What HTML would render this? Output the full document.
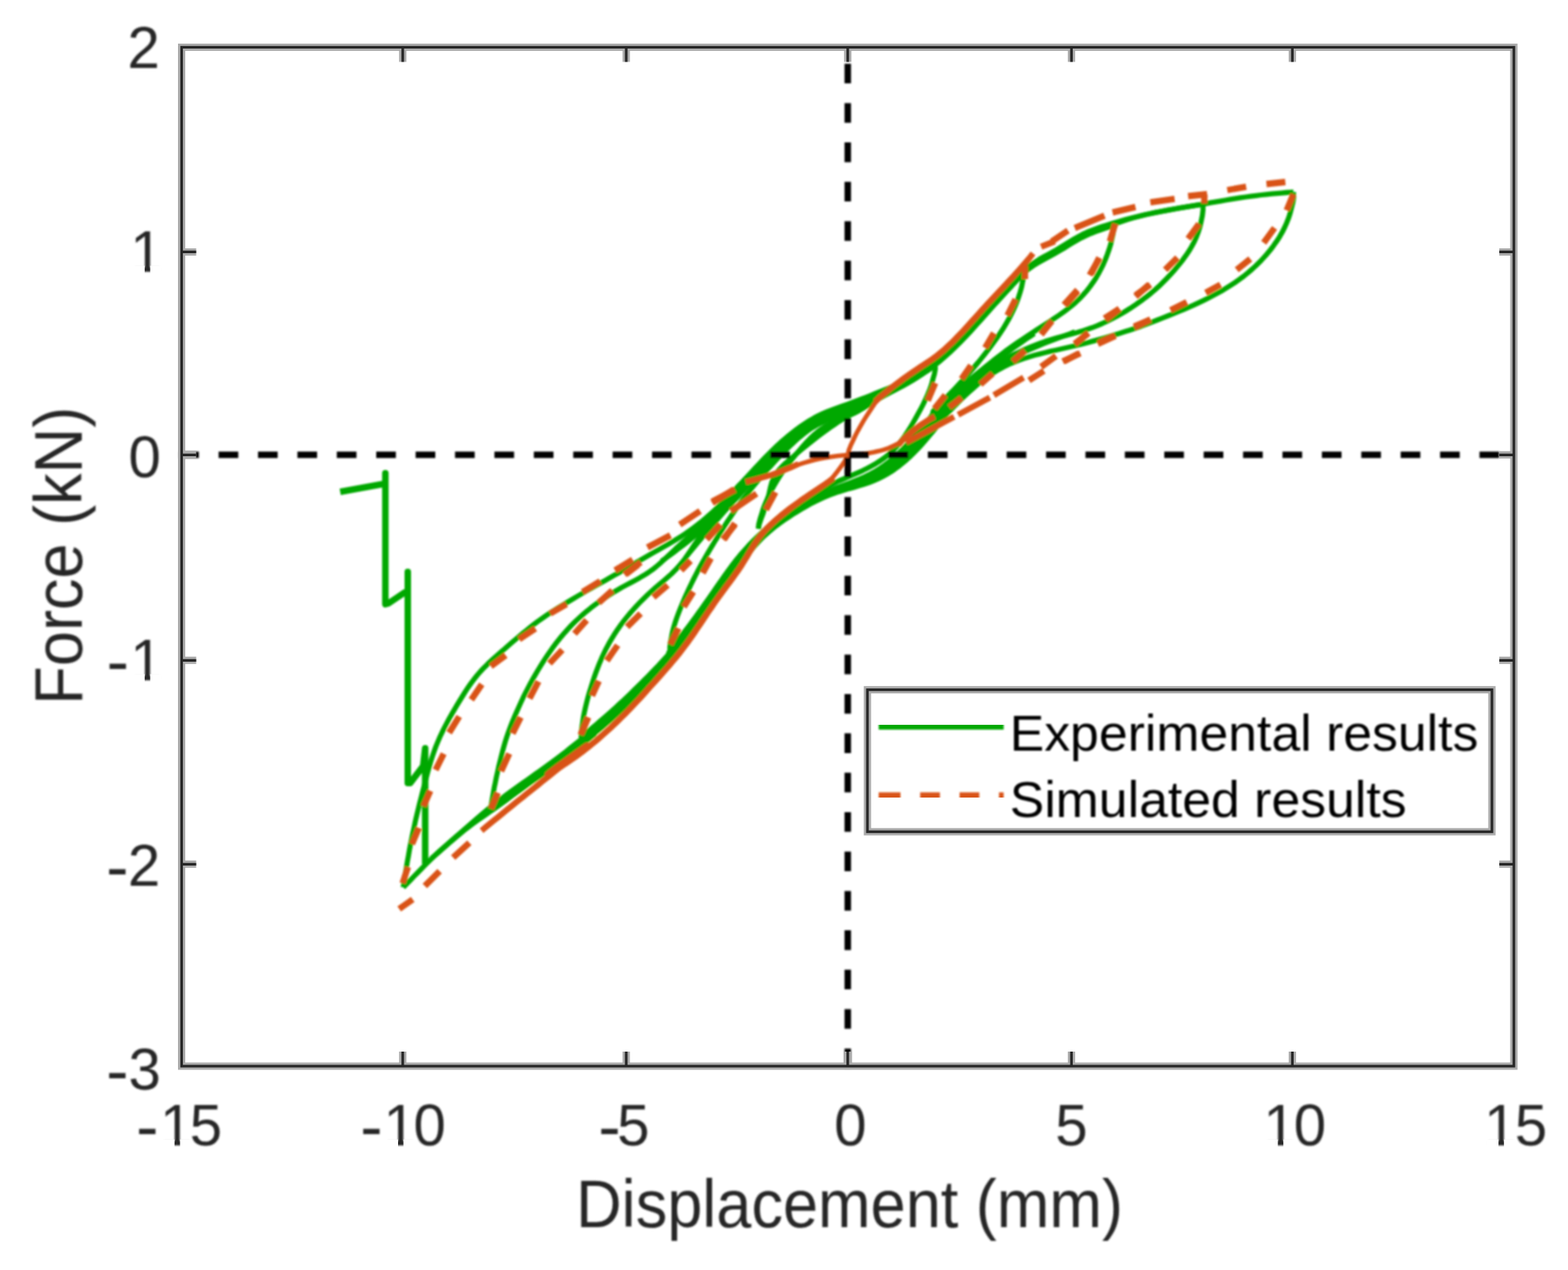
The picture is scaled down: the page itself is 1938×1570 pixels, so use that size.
<!DOCTYPE html>
<html lang="en"><head><meta charset="utf-8"><title>Force vs Displacement</title>
<style>html,body{margin:0;padding:0;background:#fff;overflow:hidden}svg{display:block}text{font-family:"Liberation Sans",sans-serif;fill:#262626}</style></head><body>
<svg width="1938" height="1570" viewBox="0 0 1938 1570">
<rect width="1938" height="1570" fill="#fff"/>
<defs><filter id="b1" x="-2%" y="-2%" width="104%" height="104%"><feGaussianBlur stdDeviation="0.8"/></filter><filter id="b2" x="-5%" y="-5%" width="110%" height="110%"><feGaussianBlur stdDeviation="0.8"/></filter></defs>
<g filter="url(#b1)">
<g fill="none" stroke-linejoin="round" stroke-linecap="butt">
<path d="M498.4,1096.9 499.3,1090.9 500.3,1084.4 501.4,1077.9 502.4,1071.5 503.5,1065.0 504.7,1058.6 505.8,1052.1 507.0,1045.7 508.3,1039.3 509.6,1032.8 511.0,1026.3 512.4,1019.8 513.8,1013.2 515.4,1006.6 517.0,1000.0 518.6,993.3 520.3,986.7 522.0,980.1 523.7,973.5 525.4,966.9 527.1,960.4 528.8,954.0 530.6,947.6 532.4,941.3 534.4,935.1 536.5,929.0 538.7,922.9 541.2,916.9 543.7,911.0 546.5,905.1 549.3,899.4 552.2,893.9 555.2,888.3 558.3,882.9 561.5,877.4 564.7,871.9 568.0,866.5 571.4,861.0 574.8,855.5 578.4,850.1 582.0,844.9 585.8,839.8 589.8,834.8 593.9,830.0 598.2,825.4 602.7,820.9 607.3,816.6 612.0,812.3 616.8,808.1 621.6,804.0 626.3,799.8 631.1,795.7 635.8,791.6 640.6,787.6 645.3,783.5 650.2,779.6 655.0,775.7 660.0,771.8 665.0,768.0 670.2,764.4 675.5,760.7 680.8,757.2 686.3,753.7 691.8,750.3 697.3,746.9 702.9,743.5 708.4,740.2 714.0,736.9 719.6,733.6 725.1,730.4 730.7,727.2 736.3,724.1 741.8,721.0 747.4,717.9 752.9,714.7 758.5,711.6 764.1,708.4 769.6,705.2 775.2,701.9 780.7,698.7 786.3,695.4 791.9,692.2 797.5,689.0 803.1,685.8 808.7,682.6 814.2,679.5 819.8,676.3 825.2,673.2 830.7,670.0 836.1,666.7 841.5,663.3 846.9,659.8 852.2,656.1 857.5,652.3 862.7,648.3 867.9,644.1 872.9,639.9 877.8,635.6 882.6,631.3 887.3,626.9 891.8,622.5 896.2,618.0 900.5,613.6 904.8,609.1 909.0,604.7 913.2,600.2 917.4,595.8 921.5,591.3 925.7,586.9 929.9,582.4 934.0,577.9 938.3,573.5 942.5,569.0 946.8,564.4 951.3,559.9 955.8,555.5 960.4,551.1 965.1,546.7 969.9,542.5 974.8,538.4 979.8,534.5 984.9,530.6 990.0,526.9 995.2,523.4 1000.5,520.0 1005.9,516.9 1011.5,513.9 1017.2,511.2 1023.0,508.7 1029.0,506.4 1035.0,504.2 1041.1,502.0 1047.1,499.9 1053.0,497.7 1058.9,495.5 1064.7,493.3 1070.4,491.1 1076.1,488.8 1081.8,486.5 1087.5,484.2 1093.2,481.9 1098.9,479.6 1104.7,477.3 1110.4,474.9 1116.2,472.4 1121.9,469.8 1127.5,467.0 1132.9,464.0 1138.3,460.7 1143.5,457.3 1148.5,453.6 1153.3,449.8 1158.1,445.8 1162.7,441.8 1167.2,437.7 1171.7,433.6 1176.1,429.4 1180.5,425.1 1184.8,420.8 1189.1,416.4 1193.4,411.9 1197.6,407.4 1201.8,402.8 1206.0,398.1 1210.2,393.5 1214.4,388.8 1218.6,384.0 1222.8,379.3 1227.0,374.6 1231.3,369.9 1235.5,365.3 1239.8,360.6 1244.0,356.1 1248.2,351.5 1252.3,347.1 1256.5,342.8 1260.8,338.6 1265.2,334.6 1269.7,330.7 1274.4,327.2 1279.4,323.8 1284.5,320.6 1289.8,317.6 1295.1,314.7 1300.5,311.7 1305.9,308.7 1311.2,305.5 1316.5,302.3 1321.8,299.0 1327.1,295.8 1332.5,292.7 1338.0,289.7 1343.7,287.0 1349.6,284.6 1355.5,282.4 1361.5,280.3 1367.5,278.4 1373.6,276.6 1379.6,274.8 1385.5,273.1 1391.5,271.4 1397.5,269.8 1403.6,268.2 1409.7,266.7 1415.8,265.3 1422.0,264.0 1428.3,262.7 1434.6,261.5 1440.9,260.3 1447.2,259.1 1453.4,258.0 1459.6,256.9 1465.7,255.9 1471.8,254.8 1477.8,253.8 1483.8,252.8 1489.8,251.8 1495.9,250.7 1502.1,249.6 1508.3,248.6 1514.6,247.5 1520.9,246.4 1527.2,245.4 1533.5,244.4 1539.8,243.5 1546.1,242.6 1552.5,241.8 1558.8,241.0 1565.2,240.3 1571.5,239.7 1577.8,239.1 1584.0,238.6 1590.2,238.0 1596.3,237.6 1598.6,237.5" stroke="#00a800" stroke-width="6.3"/>
<path d="M606.8,1000.1 607.4,994.1 608.5,987.3 609.7,980.6 610.8,973.9 612.2,967.3 613.5,960.6 615.0,954.1 616.4,947.6 618.0,941.2 619.6,934.8 621.2,928.5 622.9,922.3 624.7,916.2 626.6,910.2 628.7,904.2 630.9,898.3 633.2,892.5 635.7,886.6 638.2,880.7 640.9,874.7 643.6,868.8 646.4,862.7 649.4,856.7 652.5,850.6 655.6,844.7 658.9,838.8 662.2,833.1 665.5,827.5 668.8,822.1 672.1,816.9 675.5,811.7 678.9,806.7 682.4,801.7 686.0,796.8 689.8,791.9 693.7,787.1 697.8,782.3 702.0,777.6 706.3,773.0 710.8,768.5 715.4,764.2 720.2,759.9 725.1,755.7 730.2,751.6 735.5,747.6 740.8,743.7 746.3,739.9 751.8,736.3 757.3,732.8 762.9,729.5 768.4,726.3 774.0,723.3 779.5,720.4 785.0,717.4 790.4,714.4 795.7,711.3 801.0,708.0 806.1,704.4 811.1,700.5 815.9,696.3 820.7,692.0 825.4,687.5 830.2,683.0 835.0,678.4 839.8,674.0 844.7,669.6 849.6,665.4 854.4,661.2 859.3,657.1 864.1,653.0 868.9,648.8 873.6,644.6 878.2,640.4 882.8,636.1 887.4,631.8 891.8,627.4 896.2,623.0 900.5,618.6 904.8,614.1 909.0,609.7 913.2,605.2 917.4,600.8 921.5,596.3 925.7,591.9 929.8,587.4 934.0,583.0 938.1,578.6 942.3,574.1 946.4,569.7 950.6,565.2 954.8,560.8 959.1,556.5 963.5,552.1 968.0,547.8 972.7,543.6 977.5,539.5 982.4,535.6 987.4,531.7 992.6,528.1 997.8,524.8 1003.1,521.6 1008.6,518.7 1014.3,516.0 1020.1,513.6 1026.0,511.2 1032.0,509.0 1038.1,506.8 1044.1,504.5 1050.1,502.3 1055.9,499.9 1061.8,497.5 1067.5,495.0 1073.2,492.5 1078.9,490.0 1084.6,487.5 1090.3,485.0 1096.0,482.5 1101.8,480.0 1107.5,477.4 1113.3,474.9 1119.0,472.3 1124.5,469.5 1130.0,466.7 1135.3,463.7 1140.4,460.5 1145.3,457.2 1150.0,453.7 1154.6,450.0 1159.2,446.2 1163.6,442.3 1168.1,438.3 1172.5,434.2 1176.9,430.0 1181.2,425.8 1185.5,421.5 1189.8,417.1 1194.1,412.6 1198.3,408.1 1202.5,403.5 1206.7,398.8 1210.9,394.2 1215.1,389.5 1219.3,384.7 1223.5,380.0 1227.7,375.3 1232.0,370.6 1236.2,366.0 1240.5,361.3 1244.7,356.8 1248.9,352.2 1253.1,347.8 1257.4,343.4 1261.8,339.2 1266.4,335.1 1271.2,331.2 1276.3,327.6 1281.6,324.1 1287.0,320.9 1292.6,317.8 1298.1,314.8 1303.6,311.7 1309.0,308.6 1314.4,305.5 1319.6,302.2 1324.9,298.9 1330.3,295.7 1335.7,292.7 1341.4,289.9 1347.1,287.3 1353.0,285.0 1359.0,282.8 1365.0,280.8 1371.0,278.8 1376.9,276.9 1382.9,274.9 1388.8,273.0 1394.7,271.1 1400.7,269.3 1406.7,267.7 1412.8,266.1 1418.9,264.7 1425.1,263.4 1431.4,262.1 1437.7,260.9 1444.0,259.7 1450.3,258.6 1456.6,257.4 1462.8,256.4 1468.9,255.3 1475.0,254.3 1481.0,253.4 1486.9,252.6" stroke="#00a800" stroke-width="6.3"/>
<path d="M718.4,911.9 718.4,906.3 719.1,899.9 720.1,893.4 721.0,886.9 722.3,880.4 723.7,874.0 725.3,867.6 726.9,861.3 728.7,855.1 730.6,849.1 732.5,843.1 734.4,837.3 736.5,831.4 738.7,825.6 741.0,819.7 743.5,813.9 746.2,808.0 749.0,802.2 752.1,796.4 755.4,790.7 758.8,785.1 762.4,779.6 766.1,774.2 769.9,769.0 773.9,763.9 778.0,758.9 782.3,754.0 786.7,749.1 791.2,744.4 795.9,739.7 800.7,735.1 805.6,730.6 810.5,726.2 815.5,722.0 820.4,717.8 825.2,713.7 829.9,709.5 834.3,705.1 838.6,700.5 842.7,695.6 846.6,690.6 850.3,685.3 853.9,680.1 857.4,674.8 860.9,669.7 864.4,664.7 868.0,659.9 871.7,655.2 875.5,650.5 879.4,645.8 883.4,641.1 887.4,636.4 891.6,631.8 895.7,627.1 899.8,622.5 904.0,617.9 908.2,613.3 912.4,608.7 916.6,604.0 920.9,599.3 925.1,594.6 929.4,589.8 933.8,585.0 938.2,580.1 942.6,575.3 947.1,570.5 951.7,565.8 956.4,561.3 961.1,556.8 965.8,552.5 970.7,548.3 975.6,544.2 980.6,540.3 985.7,536.5 991.0,532.9 996.4,529.5 1002.0,526.2 1007.7,523.2 1013.5,520.4 1019.5,517.7 1025.6,515.3 1031.7,512.9 1037.9,510.6 1044.0,508.2 1050.0,505.7 1055.9,503.2 1061.8,500.6 1067.5,497.9 1073.2,495.2 1078.9,492.4 1084.6,489.7 1090.3,486.9 1096.0,484.2 1101.8,481.5 1107.5,478.8 1113.3,476.1 1119.0,473.3 1124.6,470.5 1130.1,467.6 1135.4,464.5 1140.6,461.3 1145.6,457.9 1150.4,454.4 1155.1,450.7 1159.7,446.9 1164.3,443.0 1168.7,439.0 1173.2,434.9 1177.6,430.7 1181.9,426.5 1186.2,422.2 1190.5,417.8 1194.8,413.3 1199.0,408.8 1203.2,404.2 1207.4,399.5 1211.6,394.9 1215.8,390.2 1220.0,385.4 1224.2,380.7 1228.4,376.0 1232.7,371.3 1236.9,366.7 1241.2,362.0 1245.4,357.5 1249.6,352.9 1253.8,348.5 1258.1,344.2 1262.5,339.9 1267.1,335.9 1271.9,332.2 1276.9,328.6 1282.2,325.3 1287.6,322.2 1293.1,319.2 1298.6,316.2 1304.1,313.2 1309.5,310.1 1314.8,307.0 1320.1,303.7 1325.4,300.4 1330.8,297.2 1336.4,294.1 1342.1,291.3 1348.0,288.7 1354.1,286.3 1360.1,284.2 1366.4,282.1 1372.5,280.3 1377.7,278.9" stroke="#00a800" stroke-width="6.3"/>
<path d="M828.5,806.8 827.9,800.7 828.6,794.3 829.9,788.0 831.1,781.6 832.7,775.4 834.6,769.1 836.7,763.0 839.0,756.9 841.4,750.9 843.9,745.0 846.4,739.1 849.0,733.3 851.6,727.6 854.3,722.0 857.0,716.5 859.7,711.1 862.5,705.8 865.3,700.5 868.2,695.3 871.2,690.0 874.3,684.7 877.4,679.4 880.6,674.2 883.7,669.0 886.8,664.0 889.8,659.1 892.9,654.3 896.0,649.4 899.2,644.5 902.6,639.5 906.1,634.3 909.7,629.0 913.6,623.7 917.5,618.3 921.6,613.0 925.7,607.7 929.8,602.6 934.0,597.5 938.2,592.5 942.3,587.6 946.5,582.8 950.7,578.0 955.0,573.3 959.3,568.6 963.7,564.0 968.2,559.4 972.8,554.8 977.6,550.1 982.6,545.5 987.6,541.0 992.8,536.7 998.1,532.7 1003.5,529.0 1009.0,525.7 1014.6,522.9 1020.3,520.3 1026.0,518.0 1031.9,515.8 1037.8,513.6 1043.8,511.3 1049.7,508.9 1055.6,506.2 1061.5,503.5 1067.3,500.6 1073.1,497.7 1078.8,494.7 1084.6,491.7 1090.3,488.7 1096.0,485.8 1101.8,482.9 1107.5,480.0 1113.2,477.1 1118.9,474.2 1124.6,471.3 1130.1,468.3 1135.5,465.2 1140.8,462.0 1145.9,458.6 1150.8,455.1 1155.6,451.4 1160.3,447.6 1164.9,443.7 1169.4,439.7 1173.9,435.6 1178.3,431.4 1182.6,427.2 1186.9,422.9 1191.2,418.5 1195.5,414.0 1199.7,409.5 1203.9,404.9 1208.1,400.2 1212.3,395.6 1216.5,390.9 1220.7,386.1 1224.9,381.4 1229.1,376.7 1233.4,372.0 1237.7,367.4 1242.0,362.7 1246.2,358.1 1250.5,353.5 1254.7,348.8 1258.9,344.3 1263.1,339.7 1267.1,335.2 1268.6,333.5" stroke="#00a800" stroke-width="6.3"/>
<path d="M937.3,653.6 937.8,648.0 939.4,641.7 941.4,635.4 943.3,629.2 945.7,623.0 948.3,616.9 951.0,611.0 954.0,605.1 957.2,599.4 960.5,593.8 964.0,588.3 967.7,582.8 971.5,577.4 975.5,572.1 979.6,566.8 983.7,561.7 988.0,556.7 992.2,551.8 996.6,547.0 1001.0,542.4 1005.6,538.0 1010.5,533.9 1015.6,530.1 1020.9,526.7 1026.6,523.7 1032.4,521.0 1038.3,518.5 1044.3,516.0 1050.2,513.4 1056.1,510.6 1061.8,507.6 1067.4,504.3 1073.0,500.9 1078.6,497.4 1084.2,493.9 1089.9,490.5 1095.7,487.3 1101.5,484.1 1107.3,481.1 1113.1,478.0 1118.9,475.0 1124.6,471.8 1130.1,468.5 1135.5,465.0 1140.6,461.2 1145.5,457.3 1150.2,453.1 1154.4,448.6 1155.9,446.8" stroke="#00a800" stroke-width="6.3"/>
<path d="M937.3,653.6 938.5,648.0 940.6,642.0 942.9,636.0 944.8,630.1 946.7,624.1 948.4,618.2 949.9,612.5 951.1,606.8 952.4,601.2 953.9,595.9 956.0,590.8 958.7,586.0 962.2,581.3 966.2,576.9 970.8,572.5 975.7,568.3 980.8,564.1 985.8,559.9 990.9,555.7 995.9,551.6 1000.9,547.6 1006.0,543.6 1011.0,539.7 1016.1,535.9 1021.3,532.1 1026.5,528.4 1031.8,524.7 1037.1,521.1 1042.5,517.7 1048.0,514.3 1053.6,511.1 1059.2,507.9 1064.8,504.7 1070.4,501.6 1076.1,498.5 1081.8,495.4 1087.5,492.3 1093.2,489.2 1098.9,486.1 1104.7,483.1 1110.4,480.1 1116.2,477.1 1121.9,473.9 1127.4,470.7 1132.8,467.2 1138.1,463.5 1143.0,459.6 1147.9,455.6 1152.4,451.2 1155.9,447.2" stroke="#00a800" stroke-width="6"/>
<path d="M817.5,693.6 822.2,690.5 827.6,686.7 833.1,682.7 838.4,678.7 843.8,674.7 849.0,670.6 854.1,666.4 859.2,662.2 864.0,658.1 868.9,653.9 873.6,649.7 878.2,645.4 882.8,641.1 887.4,636.8 891.8,632.4 896.2,628.0 900.5,623.6 904.8,619.1 909.0,614.7 913.2,610.2 917.4,605.8 921.5,601.3 925.7,596.9 929.8,592.4 934.0,588.0 938.1,583.5 942.3,579.1 946.4,574.7 950.6,570.3 954.8,565.8 959.1,561.4 963.5,557.1 968.0,552.7 972.7,548.5 977.5,544.2 982.4,540.0 987.4,536.0 992.6,532.0 997.8,528.3 1003.1,524.8 1008.6,521.5 1014.3,518.5 1020.1,515.8 1026.0,513.2 1032.0,510.9 1038.1,508.6 1044.1,506.3 1050.1,504.0 1055.9,501.6 1061.8,499.2 1067.5,496.6 1073.2,494.0 1078.9,491.4 1084.6,488.8 1090.3,486.2 1096.0,483.5 1101.8,480.9 1107.5,478.3 1113.3,475.6 1119.0,472.9 1124.6,470.1 1130.0,467.2 1135.3,464.1 1140.5,460.9 1145.4,457.5 1150.2,454.0 1154.8,450.3 1159.4,446.5 1163.9,442.6 1168.3,438.6 1172.8,434.5 1177.2,430.3 1181.5,426.1 1185.8,421.8 1190.1,417.4 1194.4,412.9 1198.6,408.4 1202.8,403.8 1207.0,399.1 1211.2,394.5 1215.4,389.8 1219.6,385.0 1223.8,380.3 1228.0,375.6 1232.3,370.9 1236.6,366.3 1240.9,361.6 1245.1,357.0 1249.4,352.4 1253.6,347.7 1257.8,343.2 1262.0,338.6 1266.0,334.1 1267.5,332.4" stroke="#00a800" stroke-width="6"/>
<path d="M849.9,686.1 853.7,681.5 857.9,676.5 862.2,671.4 866.4,666.3 870.6,661.2 874.8,656.2 879.0,651.3 883.2,646.4 887.4,641.5 891.5,636.8 895.7,632.1 899.8,627.5 904.0,622.9 908.2,618.3 912.4,613.7 916.6,609.0 920.9,604.3 925.1,599.6 929.4,594.8 933.8,589.9 938.2,585.1 942.6,580.3 947.1,575.5 951.7,570.8 956.4,566.3 961.1,561.8 965.8,557.4 970.7,553.2 975.6,549.1 980.5,545.1 985.5,541.2 990.6,537.5 995.7,533.8 1000.8,530.3 1006.1,527.0 1011.6,523.8 1017.2,521.0 1023.0,518.3 1028.9,515.8 1034.9,513.3 1041.0,510.9 1047.0,508.4 1052.9,505.9 1058.8,503.3 1064.6,500.6 1070.4,497.8 1076.1,495.0 1081.8,492.1 1087.5,489.3 1093.2,486.4 1098.9,483.6 1104.6,480.8 1110.4,478.0 1116.1,475.2 1121.8,472.4 1127.3,469.5 1132.8,466.5 1138.1,463.3 1143.2,460.0 1148.2,456.5 1153.0,452.9 1157.7,449.1 1162.3,445.3 1166.8,441.3 1171.3,437.3 1175.7,433.1 1180.1,428.9 1184.4,424.7 1188.7,420.3 1192.9,415.9 1197.2,411.4 1201.4,406.8 1205.6,402.2 1209.8,397.5 1214.0,392.8 1218.2,388.1 1222.4,383.4 1226.6,378.7 1230.9,374.0 1235.1,369.3 1239.4,364.6 1243.7,360.0 1248.0,355.4 1252.2,350.7 1256.4,346.2 1260.6,341.6 1264.7,337.0 1268.2,333.1" stroke="#00a800" stroke-width="6"/>
<path d="M1598.6,237.5 1599.0,243.5 1598.0,250.0 1596.4,256.4 1594.8,262.7 1592.8,269.1 1590.4,275.2 1587.7,281.3 1584.7,287.2 1581.4,292.9 1577.8,298.4 1574.0,303.8 1570.1,309.0 1565.9,314.1 1561.5,319.0 1557.0,323.8 1552.2,328.5 1547.3,333.0 1542.2,337.4 1537.0,341.6 1531.7,345.5 1526.3,349.3 1520.8,352.9 1515.2,356.4 1509.7,359.7 1504.1,362.8 1498.5,365.8 1492.9,368.7 1487.1,371.6 1481.3,374.3 1475.4,377.1 1469.2,379.8 1463.0,382.5 1456.6,385.2 1450.0,387.9 1443.4,390.5 1436.8,393.2 1430.1,395.8 1423.5,398.4 1416.8,400.9 1410.1,403.4 1403.4,405.7 1396.8,407.9 1390.1,410.1 1383.4,412.2 1376.7,414.2 1370.1,416.2 1363.4,418.2 1356.8,420.1 1350.2,421.9 1343.6,423.7 1337.0,425.4 1330.5,427.0 1324.0,428.5 1317.4,430.0 1310.9,431.5 1304.4,433.0 1297.8,434.4 1291.3,436.0 1284.8,437.6 1278.2,439.3 1271.7,441.2 1265.2,443.2 1258.8,445.5 1252.5,448.0 1246.3,450.7 1240.3,453.7 1234.4,456.9 1228.8,460.3 1223.2,463.9 1217.9,467.8 1212.6,471.8 1207.5,475.9 1202.5,480.3 1197.6,484.7 1192.7,489.2 1187.9,493.8 1183.2,498.6 1178.4,503.3 1173.5,508.2 1168.8,513.0 1164.3,517.7 1160.2,521.8 1156.8,525.4 1154.3,528.0 1152.9,529.6 1152.7,530.0 1153.5,529.3 1155.0,528.0 1156.6,526.6 1158.1,525.5 1159.0,525.1 1158.8,525.8 1157.5,527.7 1155.1,530.8 1151.9,534.8 1148.1,539.3 1143.9,544.2 1139.4,549.3 1134.9,554.3 1130.3,559.0 1125.7,563.6 1120.9,568.0 1116.1,572.1 1111.2,576.1 1106.1,579.8 1101.0,583.3 1095.7,586.5 1090.3,589.5 1084.8,592.2 1079.2,594.6 1073.5,596.8 1067.6,598.8 1061.6,600.6 1055.5,602.4 1049.2,604.1 1043.0,606.0 1036.7,607.9 1030.5,610.1 1024.3,612.4 1018.3,614.9 1012.4,617.6 1006.6,620.4 1001.0,623.3 995.5,626.4 990.1,629.5 984.9,632.7 979.7,635.9 974.6,639.3 969.5,642.7 964.5,646.3 959.6,649.9 954.7,653.8 949.9,657.8 945.1,662.1 940.5,666.6 936.0,671.3 931.6,676.2 927.4,681.3 923.3,686.4 919.4,691.5 915.6,696.7 911.9,701.7 908.4,706.7 905.0,711.7 901.6,716.6 898.2,721.5 894.8,726.4 891.3,731.4 887.8,736.5 884.3,741.6 880.6,746.8 877.0,751.9 873.4,757.0 869.7,762.2 866.1,767.3 862.4,772.3 858.8,777.2 855.1,782.1 851.4,786.9 847.7,791.7 844.0,796.3 840.2,801.0 836.3,805.6 832.4,810.2 828.4,814.8 824.4,819.4 820.3,824.1 816.2,828.8 812.0,833.5 807.7,838.1 803.5,842.8 799.1,847.4 794.8,851.9 790.4,856.4 786.0,860.8 781.6,865.1 777.1,869.4 772.6,873.6 768.1,877.8 763.6,881.9 759.0,886.0 754.3,890.1 749.6,894.2 744.8,898.3 739.9,902.4 734.8,906.6 729.6,910.9 724.3,915.3 719.0,919.6 714.0,923.6 709.4,927.3 705.7,930.2 703.2,932.3 702.1,933.2 702.5,932.9 704.5,931.3 707.8,928.7 712.1,925.4 717.1,921.5 722.1,917.5 726.8,913.8 730.7,910.8 733.3,908.7 734.5,907.8 734.2,908.1 732.3,909.6 729.2,912.2 725.0,915.5 720.1,919.4 714.8,923.6 709.3,927.9 703.8,932.1 698.4,936.2 693.1,940.2 687.9,944.1 682.8,947.9 677.6,951.7 672.5,955.4 667.4,959.1 662.2,962.7 657.1,966.3 651.9,970.0 646.8,973.7 641.6,977.5 636.4,981.2 631.2,985.0 626.0,988.9 620.8,992.7 615.6,996.4 610.4,1000.1 605.2,1003.7 600.0,1007.3 594.9,1010.9 589.8,1014.4 584.9,1018.0 580.0,1021.7 575.1,1025.4 570.4,1029.3 565.6,1033.3 560.9,1037.3 556.1,1041.4 551.3,1045.6 546.7,1049.6 541.9,1053.8 537.2,1057.8 533.4,1061.0" stroke="#00a800" stroke-width="6.3"/>
<path d="M1486.9,252.6 1486.9,259.3 1486.1,266.4 1484.7,273.2 1483.2,279.9 1481.2,286.4 1478.8,292.7 1476.1,298.7 1473.0,304.5 1469.7,310.1 1466.1,315.4 1462.3,320.7 1458.3,325.8 1454.2,330.8 1450.1,335.7 1445.8,340.4 1441.4,345.0 1436.9,349.5 1432.4,353.9 1427.7,358.1 1422.9,362.2 1417.9,366.2 1412.8,370.1 1407.5,373.9 1402.2,377.7 1396.7,381.3 1391.2,384.7 1385.6,388.1 1379.9,391.3 1374.1,394.3 1368.2,397.2 1362.2,400.0 1356.1,402.6 1349.8,405.1 1343.4,407.3 1337.0,409.4 1330.6,411.2 1324.2,413.0 1317.7,414.6 1311.3,416.3 1304.8,418.1 1298.3,420.0 1291.8,422.1 1285.2,424.4 1278.8,426.9 1272.4,429.5 1266.1,432.2 1260.0,435.0 1254.0,437.9 1248.2,440.9 1242.5,444.0 1236.8,447.3 1231.3,450.8 1225.9,454.5 1220.5,458.3 1215.2,462.3 1210.1,466.4 1205.0,470.6 1200.0,475.0 1195.2,479.4 1190.3,483.9 1185.5,488.6 1180.8,493.3 1176.0,498.1 1171.2,503.0 1166.5,507.8 1162.2,512.3 1158.5,516.2 1155.6,519.3 1153.7,521.4 1153.0,522.4 1153.3,522.4 1154.2,521.8 1155.4,521.1 1156.4,520.6 1156.7,520.9 1156.0,522.2 1154.3,524.7 1151.5,528.2 1148.0,532.5 1144.0,537.3 1139.7,542.3 1135.2,547.4 1130.7,552.3 1126.1,557.1 1121.5,561.7 1116.7,566.0 1111.9,570.2 1107.0,574.2 1101.9,578.0 1096.7,581.6 1091.2,584.9 1085.6,588.0 1079.8,590.9 1073.8,593.5 1067.6,595.8 1061.3,598.0 1055.0,600.1 1048.6,602.1 1042.3,604.1 1036.0,606.2 1029.7,608.4 1023.6,610.8 1017.6,613.4 1011.7,616.0 1005.9,618.9 1000.3,621.8 994.8,624.8 989.4,627.9 984.2,631.1 979.0,634.3 973.9,637.7 968.9,641.1 963.9,644.7 958.9,648.4 954.0,652.2 949.2,656.1 944.5,660.3 939.9,664.6 935.5,669.1 931.2,673.7 927.0,678.4 922.9,683.2 919.0,688.1 915.2,692.9 911.6,697.7 908.0,702.6 904.6,707.4 901.2,712.2 897.9,717.1 894.5,722.0 891.1,726.9 887.6,732.0 884.0,737.0 880.5,742.2 876.8,747.3 873.2,752.5 869.5,757.6 865.9,762.7 862.3,767.8 858.6,772.8 855.0,777.7 851.3,782.5 847.6,787.3 843.8,792.0 840.1,796.7 836.2,801.3 832.3,805.8 828.4,810.4 824.3,815.0 820.2,819.5 816.1,824.1 811.9,828.7 807.6,833.2 803.3,837.8 798.9,842.3 794.5,846.8 790.1,851.2 785.7,855.6 781.3,860.0 776.8,864.2 772.4,868.5 767.9,872.6 763.3,876.8 758.8,880.9 754.1,885.1 749.5,889.2 744.7,893.2 739.9,897.4 734.9,901.5 729.7,905.7 724.4,910.0 719.0,914.2 713.8,918.3 708.9,922.1 704.7,925.3 701.5,927.7 699.6,929.1 699.2,929.3 700.4,928.3 703.0,926.2 706.8,923.1 711.5,919.4 716.6,915.4 721.5,911.5 725.9,908.2 729.2,905.6 731.1,904.1 731.6,903.8 730.4,904.7 727.9,906.8 724.2,909.8 719.6,913.4 714.5,917.5 709.1,921.7 703.6,926.0 698.1,930.2 692.8,934.3 687.5,938.2 682.4,942.1 677.2,945.8 672.1,949.5 666.9,953.2 661.8,956.9 656.7,960.5 651.5,964.2 646.3,967.8 641.1,971.5 635.9,975.3 630.7,979.1 625.6,982.9 620.4,986.8 615.3,990.7 610.3,994.6 605.4,998.5 600.5,1002.5 595.8,1006.5 591.1,1010.4 586.5,1014.4 581.9,1018.3 577.3,1022.3 572.7,1026.3 568.1,1030.3 563.4,1034.4 558.6,1038.6 553.8,1042.8 549.0,1047.0 544.1,1051.4 539.4,1055.8 534.7,1060.2 530.1,1064.7 525.5,1069.3 520.9,1074.0 516.3,1078.7 511.7,1083.4 507.1,1088.2 502.4,1092.9 498.4,1096.9" stroke="#00a800" stroke-width="6.3"/>
<path d="M1376.7,275.9 1376.7,282.4 1375.7,289.1 1374.2,295.6 1372.7,302.2 1370.7,308.6 1368.5,314.8 1366.1,321.0 1363.5,327.0 1360.6,332.8 1357.6,338.4 1354.4,343.9 1350.9,349.2 1347.2,354.4 1343.2,359.5 1338.9,364.4 1334.3,369.2 1329.5,373.8 1324.5,378.1 1319.2,382.2 1313.9,386.2 1308.5,390.0 1303.0,393.7 1297.5,397.3 1292.0,400.9 1286.5,404.4 1281.0,408.0 1275.5,411.6 1270.1,415.2 1264.6,418.8 1259.2,422.4 1253.8,426.1 1248.6,429.8 1243.4,433.6 1238.4,437.4 1233.4,441.3 1228.5,445.1 1223.7,448.9 1218.9,452.7 1214.1,456.6 1209.4,460.5 1204.6,464.5 1199.8,468.5 1195.1,472.8 1190.3,477.1 1185.5,481.6 1180.8,486.2 1176.0,491.0 1171.2,495.8 1166.5,500.5 1162.2,504.9 1158.5,508.8 1155.5,512.0 1153.5,514.2 1152.6,515.5 1152.7,515.8 1153.4,515.6 1154.3,515.3 1155.0,515.2 1155.1,515.8 1154.2,517.4 1152.3,520.1 1149.5,523.7 1146.0,528.0 1142.0,532.8 1137.7,537.9 1133.2,543.0 1128.7,548.0 1124.2,552.8 1119.6,557.5 1114.9,562.0 1110.2,566.4 1105.3,570.5 1100.3,574.5 1095.1,578.2 1089.8,581.7 1084.3,585.0 1078.5,588.0 1072.6,590.8 1066.5,593.4 1060.3,595.8 1054.1,598.0 1047.8,600.2 1041.5,602.3 1035.2,604.5 1029.0,606.8 1022.9,609.2 1016.9,611.8 1011.0,614.5 1005.2,617.3 999.6,620.2 994.1,623.2 988.7,626.3 983.5,629.5 978.3,632.8 973.2,636.1 968.2,639.6 963.2,643.1 958.2,646.8 953.4,650.6 948.5,654.6 943.8,658.7 939.1,663.1 934.5,667.5 930.1,672.2 925.7,676.9 921.5,681.7 917.4,686.5 913.5,691.4 909.8,696.2 906.1,701.1 902.6,705.9 899.2,710.7 895.9,715.6 892.5,720.5 889.1,725.4 885.6,730.5 882.0,735.5 878.5,740.7 874.8,745.8 871.2,751.0 867.5,756.1 863.9,761.2 860.3,766.3 856.6,771.3 853.0,776.2 849.3,781.1 845.6,785.9 841.8,790.6 838.1,795.2 834.2,799.8 830.3,804.3 826.4,808.8 822.3,813.3 818.2,817.8 814.1,822.3 809.9,826.7 805.6,831.2 801.3,835.6 796.9,840.0 792.5,844.4 788.1,848.8 783.7,853.1 779.3,857.4 774.8,861.7 770.3,866.0 765.7,870.2 761.1,874.5 756.3,878.8 751.5,883.0 746.6,887.3 741.8,891.4 737.1,895.5 732.5,899.4 728.0,903.3 723.7,907.0 719.8,910.4 718.4,911.9" stroke="#00a800" stroke-width="6.3"/>
<path d="M1266.0,330.9 1265.9,336.6 1265.1,342.9 1263.8,349.0 1262.6,355.1 1260.9,361.1 1259.0,367.0 1256.9,372.9 1254.5,378.7 1251.9,384.4 1249.1,390.0 1246.1,395.7 1242.9,401.2 1239.5,406.8 1235.9,412.2 1232.2,417.6 1228.4,422.9 1224.6,428.0 1220.8,433.1 1216.8,438.2 1212.9,443.1 1208.9,448.1 1204.8,452.9 1200.7,457.8 1196.5,462.7 1192.2,467.5 1187.9,472.2 1183.5,476.9 1179.1,481.6 1174.6,486.3 1170.1,490.9 1165.7,495.3 1161.7,499.4 1158.3,502.9 1155.6,505.8 1153.9,507.7 1153.1,508.9 1153.0,509.5 1153.1,510.0 1153.1,510.7 1152.6,512.0 1151.2,514.2 1148.9,517.4 1145.8,521.4 1142.0,525.9 1137.9,530.9 1133.5,536.0 1129.0,541.1 1124.5,546.1 1120.0,551.0 1115.5,555.7 1110.8,560.3 1106.1,564.7 1101.2,568.9 1096.2,572.9 1091.0,576.7 1085.7,580.3 1080.1,583.6 1074.4,586.7 1068.4,589.6 1062.4,592.2 1056.2,594.7 1050.0,597.1 1043.8,599.4 1037.5,601.6 1031.4,604.0 1025.2,606.4 1019.2,608.9 1013.2,611.5 1007.4,614.3 1001.7,617.2 996.1,620.1 990.7,623.2 985.4,626.3 980.2,629.5 975.1,632.8 970.0,636.2 965.0,639.7 960.0,643.4 955.1,647.1 950.2,651.0 945.4,655.0 940.6,659.3 935.9,663.7 931.3,668.3 926.7,673.0 922.3,677.8 918.0,682.6 913.9,687.4 909.9,692.3 906.1,697.1 902.5,702.0 899.0,706.8 895.6,711.6 892.2,716.5 888.8,721.4 885.3,726.4 881.8,731.5 878.3,736.6 874.6,741.8 871.0,746.9 867.4,752.0 863.7,757.2 860.0,762.3 856.3,767.4 852.5,772.6 848.6,777.7 844.7,782.7 840.8,787.7 837.1,792.3 833.6,796.7 830.8,800.5 828.5,803.8 826.6,806.7 826.5,808.0 828.5,806.8" stroke="#00a800" stroke-width="6.3"/>
<path d="M1155.3,448.4 1156.1,455.6 1154.9,462.4 1153.0,468.8 1151.4,475.4 1149.1,481.6 1146.6,487.7 1143.9,493.7 1141.1,499.6 1138.1,505.4 1135.0,511.1 1131.8,516.8 1128.6,522.5 1125.3,528.0 1121.9,533.4 1118.4,538.7 1114.8,543.8 1111.0,548.7 1107.0,553.4 1102.7,557.8 1098.1,562.0 1093.2,565.9 1088.1,569.5 1082.7,572.9 1077.3,576.0 1071.7,579.0 1066.1,581.8 1060.4,584.4 1054.6,586.9 1048.8,589.5 1042.9,592.0 1037.0,594.5 1031.1,597.2 1025.3,599.9 1019.5,602.8 1013.7,605.7 1008.0,608.8 1002.4,612.0 996.9,615.2 991.4,618.6 985.9,622.1 980.6,625.7 975.3,629.5 970.2,633.3 965.2,637.3 960.5,641.4 955.9,645.5 951.5,649.8 947.2,654.2 943.1,658.7 939.0,663.3 935.0,668.0 931.1,672.8 927.2,677.6 923.3,682.6 919.5,687.5 915.7,692.4 912.1,697.3 908.6,702.2 905.1,707.0 901.8,711.9 898.4,716.7 895.0,721.6 891.6,726.6 888.1,731.6 884.5,736.7 880.9,741.9 877.3,747.1 873.6,752.3 870.0,757.4 866.3,762.6 862.5,767.8 858.7,772.8 854.8,777.9 850.7,782.8 846.6,787.7 842.4,792.3 838.2,796.9 834.0,801.3 830.0,805.3 828.5,806.8" stroke="#00a800" stroke-width="6.3"/>
<path d="M1328.5,410.1 1322.3,412.6 1315.6,415.1 1308.8,417.7 1302.2,420.3 1295.6,422.8 1289.1,425.3 1282.8,427.9 1276.7,430.5 1270.7,433.1 1264.9,435.7 1259.1,438.5 1253.5,441.3 1247.9,444.3 1242.4,447.4 1236.8,450.7 1231.3,454.2 1225.9,457.9 1220.5,461.7 1215.2,465.7 1210.1,469.9 1205.0,474.2 1200.0,478.6 1195.2,483.1 1190.3,487.7 1185.5,492.4 1180.8,497.1 1175.9,502.0 1171.1,506.9 1166.5,511.6 1162.2,516.1 1158.5,520.0 1155.6,523.0 1153.7,525.0 1153.1,525.9 1153.5,525.7 1154.6,524.8 1156.0,523.8 1157.1,523.1 1157.6,523.2 1157.0,524.3 1155.3,526.7 1152.5,530.2 1149.1,534.5 1145.0,539.3 1140.7,544.3 1136.2,549.3 1131.6,554.3 1127.0,559.0 1122.4,563.5 1117.6,567.8 1112.8,572.0 1107.8,575.9 1102.7,579.6 1097.4,583.1 1091.9,586.4 1086.3,589.4 1080.4,592.1 1074.4,594.6 1068.1,596.9 1061.8,599.0 1055.5,601.0 1049.1,603.0 1042.7,604.9 1036.3,607.0 1030.1,609.2 1024.0,611.5 1017.9,614.1 1012.0,616.7 1006.3,619.6 1000.6,622.5 995.1,625.5 989.8,628.6 984.5,631.8 979.2,635.2 974.0,638.6 968.8,642.3 963.7,646.0 958.5,649.9 953.4,653.8 948.2,657.8 943.2,661.8 939.1,665.1" stroke="#00a800" stroke-width="6"/>
<path d="M1278.5,412.6 1273.4,415.9 1267.8,419.6 1262.3,423.5 1256.8,427.3 1251.4,431.1 1246.1,435.0 1240.9,438.8 1235.9,442.6 1231.0,446.4 1226.1,450.2 1221.3,454.0 1216.5,457.8 1211.8,461.7 1207.0,465.6 1202.2,469.7 1197.5,473.9 1192.7,478.2 1187.9,482.7 1183.2,487.3 1178.4,492.0 1173.6,496.8 1168.8,501.7 1164.3,506.3 1160.3,510.5 1156.9,514.1 1154.4,516.8 1153.0,518.4 1152.8,519.0 1153.3,518.8 1154.3,518.3 1155.3,517.8 1155.9,517.8 1155.6,518.7 1154.4,520.7 1152.0,523.8 1148.8,527.8 1145.1,532.4 1140.9,537.3 1136.5,542.4 1131.9,547.4 1127.4,552.3 1122.8,557.0 1118.2,561.6 1113.5,566.0 1108.6,570.2 1103.6,574.1 1098.5,577.9 1093.2,581.5 1087.7,584.8 1082.1,587.8 1076.2,590.7 1070.1,593.3 1063.9,595.7 1057.7,597.9 1051.4,600.0 1045.0,602.1 1038.7,604.2 1032.5,606.4 1026.3,608.7 1020.2,611.2 1014.2,613.8 1008.4,616.6 1002.7,619.4 997.2,622.4 991.7,625.5 986.4,628.6 981.2,631.9 975.9,635.3 970.7,638.9 965.6,642.5 960.4,646.4 955.2,650.3 950.1,654.2 945.0,658.2 940.2,662.1 938.4,663.6" stroke="#00a800" stroke-width="6"/>
<path d="M525.5,1068.0 L525.5,925.0 L523.0,947.0 L507.0,968.0 L504.0,968.0 L504.0,707.0 L504.0,732.0 L500.0,732.5 L480.0,746.0 L476.3,747.0 L476.3,585.0 L476.3,598.0 L472.5,598.5 L420.5,608.0" stroke="#00a800" stroke-width="8"/>
<path d="M1047.7,562.6 1049.1,556.6 1051.6,550.3 1054.5,544.2 1057.3,538.2 1060.4,532.3 1063.6,526.6 1066.9,520.9 1070.3,515.4 1073.8,510.0 1077.3,504.7 1080.9,499.3 1084.6,494.0 1088.5,489.2" stroke="#d95319" stroke-width="5.6"/>
<path d="M1081.9,496.7 1086.0,492.5 1090.9,488.3 1096.0,484.1 1101.0,479.9 1106.2,475.9 1111.4,472.0 1116.7,468.1 1122.0,464.3 1127.3,460.6 1132.5,457.1 1137.6,453.7 1142.6,450.4 1147.5,447.2 1152.2,444.0 1156.9,440.6 1161.4,437.0 1166.0,433.2 1170.5,429.1 1175.1,424.8 1179.6,420.3 1184.1,415.7 1188.6,411.0 1193.0,406.2 1197.3,401.5 1201.5,396.8 1205.7,392.2 1209.8,387.6 1213.9,383.0 1218.1,378.5 1222.2,373.9 1226.4,369.4 1230.6,365.0 1234.8,360.5 1239.1,356.0 1243.3,351.4 1247.6,346.8 1251.9,342.2 1256.2,337.4 1260.5,332.6 1264.8,327.7 1269.1,322.8 1273.3,317.8 1276.8,313.3" stroke="#d95319" stroke-width="7.4"/>
<path d="M1047.7,562.6 1041.1,563.0 1034.2,563.7 1027.3,564.7 1020.4,565.8 1013.6,567.0 1006.9,568.5 1000.3,570.2 993.8,572.1 987.6,574.1 981.4,576.3 975.7,578.7 973.4,579.8" stroke="#d95319" stroke-width="5.6"/>
<path d="M986.8,573.5 982.1,575.7 976.8,578.1 971.1,580.4 965.4,582.7 959.3,585.0 953.1,587.1 946.7,589.1 940.3,590.9 933.8,592.8 927.3,594.5 921.7,596.0" stroke="#d95319" stroke-width="7.2"/>
<path d="M1047.7,562.6 1053.6,562.3 1060.2,561.8 1066.8,561.0 1073.4,560.2 1079.9,559.1 1086.3,557.6 1092.6,555.9 1098.6,553.8 1104.1,551.2 1109.7,548.6 1114.8,545.6 1118.6,541.8" stroke="#d95319" stroke-width="5.6"/>
<path d="M1110.2,550.1 1114.6,545.1 1119.7,540.2 1125.0,535.6 1130.4,531.1 1135.9,526.9 1141.5,523.0 1147.2,519.3 1152.9,516.2 1155.3,515.1" stroke="#d95319" stroke-width="7.4"/>
<path d="M1047.7,562.6 1044.9,568.7 1041.2,574.5 1037.2,579.9 1033.3,585.1 1029.2,590.3 1024.8,594.9 1020.1,598.5" stroke="#d95319" stroke-width="5.6"/>
<path d="M1030.2,591.0 1025.1,594.8 1019.5,598.7 1013.8,602.6 1008.2,606.4 1002.5,610.2 997.0,613.9 991.5,617.6 986.2,621.4 980.9,625.2 975.8,629.0 970.8,633.0 965.8,637.0 961.0,641.0 956.3,645.1 951.9,649.3 947.6,653.5 943.6,657.8 939.8,662.3 936.3,667.1 932.9,672.0 929.7,677.2 926.4,682.6 923.2,688.1 919.8,693.6 916.4,699.1 912.8,704.5 909.1,709.7 905.4,714.9 901.6,720.0 897.8,725.0 894.1,730.1 890.3,735.2 886.6,740.3 883.0,745.5 879.4,750.8 875.8,756.0 872.2,761.3 868.7,766.6 865.2,771.9 861.6,777.1 858.1,782.4 854.5,787.6 850.9,792.7 847.1,797.8 843.3,802.9 839.4,807.9 835.4,812.8 831.3,817.7 827.2,822.6 823.0,827.4 818.7,832.2 814.5,837.0 810.3,841.7 806.1,846.4 801.8,851.1 797.7,855.8 793.5,860.4 789.3,865.0 785.0,869.5 780.8,874.0 776.5,878.5 772.2,882.9 767.8,887.2 763.4,891.5 758.9,895.8 754.5,900.0 750.0,904.1 745.5,908.1 740.9,912.1 736.3,916.1 731.6,919.9 726.8,923.8 721.9,927.7 716.8,931.5 711.5,935.4 706.0,939.2 700.3,943.1 694.8,946.8 689.6,950.1 684.8,953.1 681.0,955.5 678.2,957.0 676.9,957.6 677.0,957.1 678.6,955.7 681.5,953.4 685.7,950.3 690.7,946.5 696.3,942.4 702.1,938.2 707.9,934.0 713.3,930.1 718.1,926.7 721.8,924.0 724.3,922.3 725.4,921.7 725.0,922.2 723.1,923.8 719.9,926.4 715.7,929.8 710.8,933.7 705.5,938.0 700.1,942.3 694.8,946.5 689.5,950.7 684.5,954.7 679.6,958.6 674.8,962.4 670.0,966.2 665.3,970.0 660.5,973.8 655.8,977.6 651.0,981.4 646.2,985.3 641.3,989.2 636.4,993.2 631.3,997.3 626.2,1001.4 621.1,1005.6 616.0,1009.8 610.9,1013.9 606.0,1017.9 601.1,1021.9 596.8,1025.5 595.2,1026.8" stroke="#d95319" stroke-width="7.4"/>
<path d="M1265.1,466.8 L1228.4,488.5" stroke="#d95319" stroke-width="7.4"/>
<path d="M1223.4,491.5 L1184.2,512.7" stroke="#d95319" stroke-width="7.4"/>
<path d="M1179.2,515.2 L1120.0,546.9" stroke="#d95319" stroke-width="7.4"/>
<path d="M497.6,1091.9 L504.2,1071.9" stroke="#d95319" stroke-width="7.8"/>
<path d="M509.2,1043.5 L517.6,1023.5" stroke="#d95319" stroke-width="7.8"/>
<path d="M523.4,996.8 L531.8,977.6" stroke="#d95319" stroke-width="7.8"/>
<path d="M538.4,951.7 L548.4,931.7" stroke="#d95319" stroke-width="7.8"/>
<path d="M555.1,905.9 L567.6,885.8" stroke="#d95319" stroke-width="7.8"/>
<path d="M493.4,1123.6 L510.1,1111.9" stroke="#d95319" stroke-width="7.8"/>
<path d="M525.1,1095.2 L543.4,1076.9" stroke="#d95319" stroke-width="7.8"/>
<path d="M560.1,1060.2 L580.1,1041.8" stroke="#d95319" stroke-width="7.8"/>
<path d="M606.8,1000.1 L615.2,980.1" stroke="#d95319" stroke-width="7.8"/>
<path d="M619.4,953.4 L629.4,931.7" stroke="#d95319" stroke-width="7.8"/>
<path d="M633.5,906.7 L643.5,886.7" stroke="#d95319" stroke-width="7.8"/>
<path d="M718.6,906.7 L727.0,886.7" stroke="#d95319" stroke-width="7.8"/>
<path d="M582.5,865.0 L595.5,846.0" stroke="#d95319" stroke-width="7.8"/>
<path d="M654.5,863.5 L665.5,842.5" stroke="#d95319" stroke-width="7.8"/>
<path d="M606.7,823.6 L625.0,810.2" stroke="#d95319" stroke-width="7.8"/>
<path d="M641.7,790.2 L661.7,776.9" stroke="#d95319" stroke-width="7.8"/>
<path d="M680.1,758.5 L700.1,746.8" stroke="#d95319" stroke-width="7.8"/>
<path d="M720.1,731.8 L741.8,718.5" stroke="#d95319" stroke-width="7.8"/>
<path d="M760.2,705.1 L781.9,691.8" stroke="#d95319" stroke-width="7.8"/>
<path d="M800.2,676.8 L828.6,661.8" stroke="#d95319" stroke-width="7.8"/>
<path d="M840.2,648.4 L865.3,631.7" stroke="#d95319" stroke-width="7.8"/>
<path d="M880.3,621.7 L907.0,605.0" stroke="#d95319" stroke-width="7.8"/>
<path d="M771.8,710.1 L791.9,695.1" stroke="#d95319" stroke-width="7.8"/>
<path d="M679.2,820.1 L695.0,803.4" stroke="#d95319" stroke-width="7.8"/>
<path d="M710.1,783.4 L725.1,766.7" stroke="#d95319" stroke-width="7.8"/>
<path d="M740.1,745.0 L756.8,730.0" stroke="#d95319" stroke-width="7.8"/>
<path d="M773.5,710.0 L788.5,698.3" stroke="#d95319" stroke-width="7.8"/>
<path d="M717.6,908.5 L726.7,886.9" stroke="#d95319" stroke-width="7.8"/>
<path d="M731.7,860.2 L740.1,841.8" stroke="#d95319" stroke-width="7.8"/>
<path d="M750.1,816.8 L763.4,797.6" stroke="#d95319" stroke-width="7.8"/>
<path d="M775.1,775.1 L791.8,758.4" stroke="#d95319" stroke-width="7.8"/>
<path d="M807.7,738.4 L825.2,723.4" stroke="#d95319" stroke-width="7.8"/>
<path d="M841.9,705.0 L853.5,693.3" stroke="#d95319" stroke-width="7.8"/>
<path d="M828.5,796.8 L838.5,776.7" stroke="#d95319" stroke-width="7.8"/>
<path d="M845.2,750.1 L856.9,731.7" stroke="#d95319" stroke-width="7.8"/>
<path d="M868.5,708.3 L878.6,690.0" stroke="#d95319" stroke-width="7.8"/>
<path d="M873.6,666.8 L890.3,648.4" stroke="#d95319" stroke-width="7.8"/>
<path d="M893.6,666.8 L908.7,648.4" stroke="#d95319" stroke-width="7.8"/>
<path d="M880.0,620.2 L908.4,605.2" stroke="#d95319" stroke-width="7.8"/>
<path d="M903.4,631.9 L935.1,610.2" stroke="#d95319" stroke-width="7.8"/>
<path d="M946.7,630.2 L958.4,608.5" stroke="#d95319" stroke-width="7.8"/>
<path d="M895.0,666.9 L908.4,646.9" stroke="#d95319" stroke-width="7.8"/>
<path d="M1266.8,328.4 L1266.8,345.0" stroke="#d95319" stroke-width="7.8"/>
<path d="M1255.1,370.1 L1245.1,390.1" stroke="#d95319" stroke-width="7.8"/>
<path d="M1228.4,411.8 L1217.6,430.1" stroke="#d95319" stroke-width="7.8"/>
<path d="M1200.1,451.8 L1188.4,468.5" stroke="#d95319" stroke-width="7.8"/>
<path d="M1168.4,488.5 L1155.0,505.2" stroke="#d95319" stroke-width="7.8"/>
<path d="M1155.9,473.5 L1146.7,495.2" stroke="#d95319" stroke-width="7.8"/>
<path d="M1358.6,318.4 L1348.6,338.4" stroke="#d95319" stroke-width="7.8"/>
<path d="M1331.9,360.1 L1316.9,376.7" stroke="#d95319" stroke-width="7.8"/>
<path d="M1300.2,396.8 L1286.8,413.5" stroke="#d95319" stroke-width="7.8"/>
<path d="M1266.8,433.5 L1251.8,446.8" stroke="#d95319" stroke-width="7.8"/>
<path d="M1226.8,461.8 L1211.8,475.2" stroke="#d95319" stroke-width="7.8"/>
<path d="M1188.4,491.9 L1173.4,503.5" stroke="#d95319" stroke-width="7.8"/>
<path d="M1420.3,351.7 L1403.6,366.7" stroke="#d95319" stroke-width="7.8"/>
<path d="M1383.6,381.8 L1366.9,395.1" stroke="#d95319" stroke-width="7.8"/>
<path d="M1345.2,411.8 L1328.5,425.1" stroke="#d95319" stroke-width="7.8"/>
<path d="M1305.2,440.1 L1286.8,453.5" stroke="#d95319" stroke-width="7.8"/>
<path d="M1290.2,458.5 L1271.8,470.2" stroke="#d95319" stroke-width="7.8"/>
<path d="M1422.0,395.1 L1402.0,405.1" stroke="#d95319" stroke-width="7.8"/>
<path d="M1378.6,415.1 L1356.9,425.1" stroke="#d95319" stroke-width="7.8"/>
<path d="M1335.2,436.8 L1313.5,446.8" stroke="#d95319" stroke-width="7.8"/>
<path d="M1286.8,305.0 L1303.5,298.3" stroke="#d95319" stroke-width="7.8"/>
<path d="M1300.0,298.4 L1320.0,285.1" stroke="#d95319" stroke-width="7.8"/>
<path d="M1328.4,281.8 L1365.1,266.7" stroke="#d95319" stroke-width="7.8"/>
<path d="M1375.1,262.6 L1403.4,255.9" stroke="#d95319" stroke-width="7.8"/>
<path d="M1421.8,250.1 L1451.8,245.9" stroke="#d95319" stroke-width="7.8"/>
<path d="M1468.5,242.5 L1491.9,240.0" stroke="#d95319" stroke-width="7.8"/>
<path d="M1488.5,240.0 L1488.5,251.7" stroke="#d95319" stroke-width="7.8"/>
<path d="M1516.9,235.0 L1540.2,230.9" stroke="#d95319" stroke-width="7.8"/>
<path d="M1565.3,227.5 L1588.6,225.0" stroke="#d95319" stroke-width="7.8"/>
<path d="M1598.6,240.0 L1590.3,260.1" stroke="#d95319" stroke-width="7.8"/>
<path d="M1575.3,281.8 L1561.9,300.1" stroke="#d95319" stroke-width="7.8"/>
<path d="M1545.3,320.1 L1528.6,333.5" stroke="#d95319" stroke-width="7.8"/>
<path d="M1508.5,351.8 L1490.2,361.8" stroke="#d95319" stroke-width="7.8"/>
<path d="M1466.8,373.5 L1446.8,383.5" stroke="#d95319" stroke-width="7.8"/>
<path d="M1421.8,395.2 L1401.8,403.5" stroke="#d95319" stroke-width="7.8"/>
<path d="M1376.7,415.2 L1358.4,423.6" stroke="#d95319" stroke-width="7.8"/>
<path d="M1333.4,436.9 L1315.0,446.9" stroke="#d95319" stroke-width="7.8"/>
<path d="M1481.9,276.7 L1468.5,295.1" stroke="#d95319" stroke-width="7.8"/>
<path d="M1455.2,318.5 L1440.1,333.5" stroke="#d95319" stroke-width="7.8"/>
<path d="M1421.8,351.8 L1403.4,365.2" stroke="#d95319" stroke-width="7.8"/>
<path d="M1383.4,381.9 L1365.1,393.5" stroke="#d95319" stroke-width="7.8"/>
<path d="M1345.0,411.9 L1328.4,425.2" stroke="#d95319" stroke-width="7.8"/>
<path d="M1378.4,276.7 L1371.7,298.4" stroke="#d95319" stroke-width="7.8"/>
<path d="M1358.4,320.1 L1346.7,340.1" stroke="#d95319" stroke-width="7.8"/>
<path d="M1331.7,358.5 L1315.0,376.8" stroke="#d95319" stroke-width="7.8"/>
</g>
<g stroke="#000" fill="none" stroke-width="8" stroke-dasharray="24.3 24.4">
<path d="M221.5,562.2 H1871.1"/>
<path d="M1047.8,1320.5 V58.4"/>
</g>
</g>
<rect x="224.5" y="58.4" width="1646.6" height="1259.6" fill="none" stroke="#ababab" stroke-width="9"/>
<path d="M497.8,1318.0 v-18.0 M497.8,58.4 v18.0 M774.0,1318.0 v-18.0 M774.0,58.4 v18.0 M1047.8,1318.0 v-18.0 M1047.8,58.4 v18.0 M1324.3,1318.0 v-18.0 M1324.3,58.4 v18.0 M1597.3,1318.0 v-18.0 M1597.3,58.4 v18.0 M224.5,311.4 h18.0 M1871.1,311.4 h-18.0 M224.5,562.3 h18.0 M1871.1,562.3 h-18.0 M224.5,816.3 h18.0 M1871.1,816.3 h-18.0 M224.5,1068.3 h18.0 M1871.1,1068.3 h-18.0" stroke="#ababab" stroke-width="9" fill="none"/>
<rect x="224.5" y="58.4" width="1646.6" height="1259.6" fill="none" stroke="#262626" stroke-width="3.2"/>
<path d="M497.8,1318.0 v-18.0 M497.8,58.4 v18.0 M774.0,1318.0 v-18.0 M774.0,58.4 v18.0 M1047.8,1318.0 v-18.0 M1047.8,58.4 v18.0 M1324.3,1318.0 v-18.0 M1324.3,58.4 v18.0 M1597.3,1318.0 v-18.0 M1597.3,58.4 v18.0 M224.5,311.4 h18.0 M1871.1,311.4 h-18.0 M224.5,562.3 h18.0 M1871.1,562.3 h-18.0 M224.5,816.3 h18.0 M1871.1,816.3 h-18.0 M224.5,1068.3 h18.0 M1871.1,1068.3 h-18.0" stroke="#262626" stroke-width="3.2" fill="none"/>
<g filter="url(#b2)">
<text font-size="72" text-anchor="start"><tspan x="168.22" y="1421.20" font-size="83">-</tspan><tspan x="197.85 234.55" y="1416.20">15</tspan></text>
<text font-size="72" text-anchor="start"><tspan x="445.22" y="1421.20" font-size="83">-</tspan><tspan x="474.00 510.90" y="1416.20">10</tspan></text>
<text font-size="72" text-anchor="start"><tspan x="739.52" y="1421.20" font-size="83">-</tspan><tspan x="762.70" y="1416.20">5</tspan></text>
<text x="1030.90" y="1416.20" font-size="72" text-anchor="start">0</text>
<text x="1304.20" y="1416.20" font-size="72" text-anchor="start">5</text>
<text x="1561.50 1599.00" y="1416.20" font-size="72" text-anchor="start">10</text>
<text x="1834.15 1872.15" y="1416.20" font-size="72" text-anchor="start">15</text>
<text x="157.45" y="83.80" font-size="72" text-anchor="start">2</text>
<text x="160.95" y="336.10" font-size="72" text-anchor="start">1</text>
<text x="158.65" y="590.00" font-size="72" text-anchor="start">0</text>
<text font-size="72" text-anchor="start"><tspan x="131.72" y="846.05" font-size="83">-</tspan><tspan x="160.95" y="841.05">1</tspan></text>
<text font-size="72" text-anchor="start"><tspan x="131.37" y="1099.80" font-size="83">-</tspan><tspan x="157.90" y="1094.80">2</tspan></text>
<text font-size="72" text-anchor="start"><tspan x="131.37" y="1351.60" font-size="83">-</tspan><tspan x="158.85" y="1346.60">3</tspan></text>
<text transform="translate(1050.00,1517.50) scale(1.0,1.06)" font-size="78" text-anchor="middle">Displacement (mm)</text>
<text transform="translate(101.50,687.00) rotate(-90) scale(1.0,1.06)" font-size="78" text-anchor="middle">Force (kN)</text>
</g>
<rect x="200.8" y="1408.6" width="14.9" height="10.1" fill="#fff"/>
<rect x="222.5" y="1408.6" width="14.3" height="10.1" fill="#fff"/>
<rect x="477.0" y="1408.6" width="15.0" height="10.1" fill="#fff"/>
<rect x="498.6" y="1408.6" width="14.4" height="10.1" fill="#fff"/>
<rect x="1564.5" y="1408.6" width="14.9" height="10.1" fill="#fff"/>
<rect x="1586.2" y="1408.6" width="14.3" height="10.1" fill="#fff"/>
<rect x="1837.2" y="1408.6" width="14.9" height="10.1" fill="#fff"/>
<rect x="1858.8" y="1408.6" width="14.3" height="10.1" fill="#fff"/>
<rect x="163.9" y="328.5" width="14.9" height="10.1" fill="#fff"/>
<rect x="185.6" y="328.5" width="14.3" height="10.1" fill="#fff"/>
<rect x="163.9" y="833.4" width="14.9" height="10.1" fill="#fff"/>
<rect x="185.6" y="833.4" width="14.3" height="10.1" fill="#fff"/>
<rect x="1072.1" y="852.7" width="771.9" height="175.5" fill="#fff" stroke="#ababab" stroke-width="9"/>
<rect x="1072.1" y="852.7" width="771.9" height="175.5" fill="none" stroke="#262626" stroke-width="3.2"/>
<g filter="url(#b1)">
<path d="M1086.0,898.2 H1240.5" stroke="#00a800" stroke-width="7.7" fill="none"/>
<path d="M1086.0,983.4 H1240.5" stroke="#d95319" stroke-width="7.7" fill="none" stroke-dasharray="27 24.3 24.4 24.3 24.4 24.3 24.4"/>
</g>
<g filter="url(#b2)">
<text transform="translate(1248.00,928.00) scale(1.015,1)" font-size="63" text-anchor="start" style="fill:#000;">Experimental results</text>
<text transform="translate(1248.00,1010.00) scale(1.015,1)" font-size="63" text-anchor="start" style="fill:#000;">Simulated results</text>
</g>
</svg></body></html>
